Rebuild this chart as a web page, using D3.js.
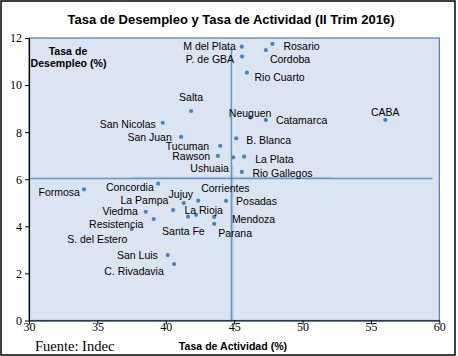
<!DOCTYPE html>
<html><head><meta charset="utf-8">
<script src="https://cdn.jsdelivr.net/npm/d3@7"></script>
<style>body{margin:0;background:#fff}svg{display:block}</style>
</head><body><div id="chart"></div>
<script>
const names = ["M del Plata","P. de GBA","Rosario","Cordoba","Rio Cuarto","Salta","Neuguen","Catamarca","CABA","San Nicolas","San Juan","B. Blanca","Tucuman","Rawson","Ushuaia","La Plata","Rio Gallegos","Formosa","Concordia","Viedma","Resistencia","S. del Estero","La Pampa","Jujuy","Corrientes","Santa Fe","La Rioja","Mendoza","Parana","Posadas","San Luis","C. Rivadavia"];
const actividad = [45.56,45.58,47.80,47.32,45.93,41.85,46.17,47.32,56.05,39.78,41.12,45.15,43.98,43.81,44.93,45.73,45.56,34.02,39.44,38.54,39.12,37.51,40.54,41.32,42.37,41.63,42.22,43.54,43.54,44.41,40.15,40.61];
const desempleo = [11.63,11.21,11.75,11.49,10.53,8.90,8.63,8.52,8.52,8.40,7.80,7.74,7.42,6.99,6.93,6.96,6.31,5.57,5.81,4.62,4.31,3.89,4.69,4.99,5.09,4.41,4.49,4.40,4.11,5.08,2.78,2.40];
const xTicks = [30,35,40,45,50,55,60];
const yTicks = [0,2,4,6,8,10,12];
const promActividad = 44.8;
const promDesempleo = 6.03;

// label placement (pixel offsets relative to the point, anchor)
const labelPos = {
 "M del Plata":[-6,0,"end"],"P. de GBA":[-8,3,"end"],"Rosario":[11,2,"start"],"Cordoba":[4,9,"start"],
 "Rio Cuarto":[7.6,4.6,"start"],"Salta":[0,-13.7,"middle"],"Neuguen":[0,-4,"middle"],"Catamarca":[10,0.7,"start"],
 "CABA":[0,-7.3,"middle"],"San Nicolas":[-7,1.6,"end"],"San Juan":[-9.3,0,"end"],"B. Blanca":[10,1.7,"start"],
 "Tucuman":[-11,0.2,"end"],"Rawson":[-7.7,0.6,"end"],"Ushuaia":[-4.3,11,"end"],"La Plata":[11,2.3,"start"],
 "Rio Gallegos":[10.6,1.3,"start"],"Formosa":[-4,3,"end"],"Concordia":[-4.3,3.6,"end"],"Viedma":[-8,-0.5,"end"],
 "Resistencia":[-10.4,4.8,"end"],"S. del Estero":[-4.4,10,"end"],"La Pampa":[-4.8,-9.5,"end"],"Jujuy":[-3,-8.8,"middle"],
 "Corrientes":[3,-12.4,"start"],"Santa Fe":[-4.7,14.3,"middle"],"La Rioja":[-11.7,-4.7,"start"],"Mendoza":[17.7,2.3,"start"],
 "Parana":[4,10,"start"],"Posadas":[10,0,"start"],"San Luis":[-10,0,"end"],"C. Rivadavia":[-10.3,7,"end"]
};

const W = 458, H = 356;
const svg = d3.select("#chart").append("svg").attr("width", W).attr("height", H);
const L = 29, R = 439.3, T = 38, B = 320.5;
const x = d3.scaleLinear().domain([30,60]).range([L,R]);
const y = d3.scaleLinear().domain([0,12]).range([B,T]);

svg.append("rect").attr("x",1).attr("y",1).attr("width",454).attr("height",354)
  .attr("fill","#fff").attr("stroke","#000").attr("stroke-width",1.5);

svg.append("rect").attr("x",L).attr("y",T).attr("width",R-L).attr("height",B-T)
  .attr("fill","#dbe5f1").attr("stroke","#4a7ebb").attr("stroke-width",1.2);

// reference lines
svg.append("line").attr("x1",x(30)).attr("x2",x(59.5)).attr("y1",y(promDesempleo)).attr("y2",y(promDesempleo))
  .attr("stroke","#4f81bd").attr("stroke-opacity",0.8).attr("stroke-width",1.5);
svg.append("line").attr("x1",x(37.5)).attr("x2",x(52.2)).attr("y1",y(promDesempleo)-1).attr("y2",y(promDesempleo)-1)
  .attr("stroke","#4f81bd").attr("stroke-opacity",0.25).attr("stroke-width",1.5);
svg.append("line").attr("x1",x(promActividad)).attr("x2",x(promActividad)).attr("y1",y(11.6)).attr("y2",y(0))
  .attr("stroke","#4f81bd").attr("stroke-opacity",0.8).attr("stroke-width",1.5);
svg.append("line").attr("x1",x(promActividad)+1.3).attr("x2",x(promActividad)+1.3).attr("y1",y(6.6)).attr("y2",y(0))
  .attr("stroke","#4f81bd").attr("stroke-opacity",0.25).attr("stroke-width",1.5);

// axes
const xAxis = svg.append("g").attr("transform",`translate(0,${B})`)
  .call(d3.axisBottom(x).tickValues(xTicks).tickSize(4).tickSizeOuter(0));
const yAxis = svg.append("g").attr("transform",`translate(${L},0)`)
  .call(d3.axisLeft(y).tickValues(yTicks).tickSize(4).tickSizeOuter(0));
[xAxis,yAxis].forEach(a=>{
  a.select(".domain").attr("stroke","#000").attr("stroke-width",1.2);
  a.selectAll(".tick line").attr("stroke","#000");
  a.selectAll("text").attr("font-family","Liberation Serif").attr("font-size","12px").attr("fill","#000");
});
xAxis.selectAll("text").attr("dy","0.3em").attr("y",7);
yAxis.selectAll("text").attr("x",-7);

const data = names.map((n,i)=>({n, a:actividad[i], d:desempleo[i]}));

svg.append("g").selectAll("circle").data(data).join("circle")
  .attr("cx",d=>x(d.a)).attr("cy",d=>y(d.d)).attr("r",2.1).attr("fill","#4f81bd");

svg.append("g").selectAll("text").data(data).join("text")
  .attr("x",d=>x(d.a)+labelPos[d.n][0]).attr("y",d=>y(d.d)+labelPos[d.n][1])
  .attr("dy","0.35em").attr("text-anchor",d=>labelPos[d.n][2])
  .attr("font-family","Liberation Sans").attr("font-size","10.5px").attr("fill","#000")
  .text(d=>d.n);

svg.append("text").attr("x",231).attr("y",19).attr("dy","0.35em").attr("text-anchor","middle")
  .attr("font-family","Liberation Sans").attr("font-weight","bold").attr("font-size","13px")
  .text("Tasa de Desempleo y Tasa de Actividad (II Trim 2016)");

const yt = svg.append("text").attr("font-family","Liberation Sans").attr("font-weight","bold").attr("font-size","10.6px").attr("text-anchor","middle");
yt.append("tspan").attr("x",68).attr("y",51.7).attr("dy","0.35em").text("Tasa de");
yt.append("tspan").attr("x",68.5).attr("y",63.5).attr("dy","0.35em").text("Desempleo (%)");

svg.append("text").attr("x",233).attr("y",346.5).attr("dy","0.35em").attr("text-anchor","middle")
  .attr("font-family","Liberation Sans").attr("font-weight","bold").attr("font-size","10.6px")
  .text("Tasa de Actividad (%)");

svg.append("text").attr("x",35).attr("y",346).attr("dy","0.35em")
  .attr("font-family","Liberation Serif").attr("font-size","14.5px")
  .text("Fuente:  Indec");
</script></body></html>
